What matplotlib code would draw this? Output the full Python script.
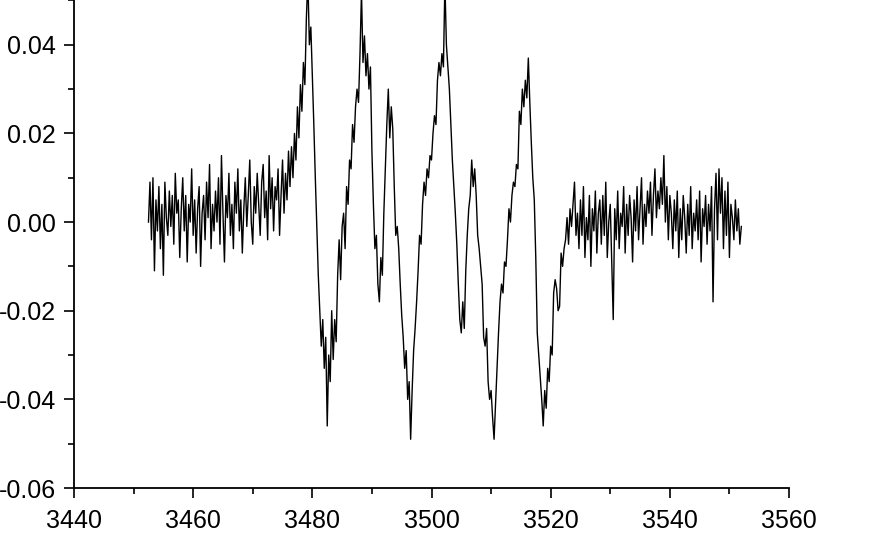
import numpy as np
import matplotlib
matplotlib.use("Agg")
import matplotlib.pyplot as plt
from matplotlib.ticker import MultipleLocator, FormatStrFormatter

# field axis (G): first point and sampling step
field_start = 3452.5
field_step = 0.25

# signal, in units of 1e-3 (8 points = 2 G per row)
signal_milli = [
    0, 9, -4, 10, -11, 5, -2, 8,
    -6, 4, -12, 9, 1, -3, 7, -1,
    6, -5, 11, 2, 5, -8, 3, 10,
    -2, 6, -9, 4, 0, 12, -3, 5,
    -7, 3, 8, -10, 2, 6, -4, 9,
    1, 13, -6, 4, -2, 7, 0, 10,
    -5, 15, 2, -9, 6, 1, 11, -3,
    4, -6, 9, 2, 12, -2, 5, -7,
    3, 10, -1, 6, 14, 0, -5, 8,
    2, 11, 4, -3, 9, 13, 1, 7,
    -4, 15, 3, 10, -2, 8, 5, 12,
    -3, 6, 14, 2, 11, 5, 16, 8,
    # 3476.5 - hyperfine lines
    17, 10, 20, 14, 26, 19, 31, 25,
    36, 31, 46, 55, 40, 44, 33, 22,
    10, -1, -12, -20, -28, -22, -33, -26,
    -46, -30, -36, -20, -31, -22, -27, -12,
    -4, -13, -1, 2, -6, 8, 4, 14,
    12, 22, 18, 26, 30, 27, 38, 52,
    36, 42, 33, 38, 30, 35, 16, 4,
    -6, -3, -14, -18, -8, -12, 2, 12,
    22, 30, 19, 26, 21, 8, -3, -1,
    -6, -14, -21, -26, -33, -29, -40, -36,
    -49, -38, -29, -24, -18, -11, -3, -5,
    4, 9, 6, 12, 10, 15, 14, 20,
    24, 22, 32, 36, 33, 38, 35, 54,
    40, 35, 30, 22, 14, 8, 2, -5,
    -14, -22, -25, -18, -24, -11, -3, 3,
    6, 14, 8, 12, 6, -3, -6, -10,
    -14, -26, -28, -24, -36, -40, -38, -44,
    -49, -41, -33, -25, -18, -14, -16, -9,
    -10, -4, 3, 0, 6, 9, 8, 13,
    12, 25, 22, 30, 26, 32, 28, 37,
    27, 18, 10, 5, -8, -25, -30, -35,
    -40, -46, -38, -42, -33, -36, -28, -30,
    -16, -13, -15, -20, -19, -7, -10, -6,
    -4, 1, -5, 3, -1, 4, 9, -3,
    # 3524.5 - baseline
    2, -6, 5, -3, 8, -8, 1, -4,
    6, -10, 3, -2, 7, -7, 2, 5,
    -5, 6, -3, 9, -8, 0, 4, -9,
    -22, 3, -4, 7, -6, 2, -1, 8,
    -7, 4, -3, 6, 1, -9, 5, -2,
    8, -4, 3, 10, -5, 4, -1, 7,
    2, 9, -3, 6, 12, 1, 7, 3,
    10, 4, 15, 0, 8, -4, 6, 2,
    -6, 5, -2, 7, -8, 3, -4, 6,
    1, -7, 4, -3, 8, -6, 2, -2,
    5, -4, 7, -9, 3, -1, 6, -5,
    4, -2, 8, -18, 3, 11, -4, 12,
    2, 10, -6, 7, -3, 9, -8, 4,
    1, -4, 5, -2, 3, -5, -1,
]


def main():
    plt.rcParams['font.family'] = ['Liberation Sans', 'DejaVu Sans']
    plt.rcParams['axes.unicode_minus'] = False

    signal = np.array(signal_milli) / 1000.0
    field = field_start + field_step * np.arange(len(signal))

    fig = plt.figure(figsize=(8.78, 5.41), dpi=100)
    # the plot area reaches the top edge of the image; the peaks are cut there
    ax = fig.add_axes([74 / 878, 53 / 541, 715 / 878, 488 / 541])

    ax.plot(field, signal, color='black', linewidth=1.0)

    ax.set_xlim(3440, 3560)
    ax.set_ylim(-0.06, 0.0501)

    ax.xaxis.set_major_locator(MultipleLocator(20))
    ax.xaxis.set_minor_locator(MultipleLocator(10))
    ax.yaxis.set_major_locator(MultipleLocator(0.02))
    ax.yaxis.set_minor_locator(MultipleLocator(0.01))
    ax.yaxis.set_major_formatter(FormatStrFormatter('%.2f'))

    for side in ('top', 'right'):
        ax.spines[side].set_visible(False)
    for side in ('left', 'bottom'):
        ax.spines[side].set_linewidth(1.3)

    ax.tick_params(which='major', direction='out', length=7, width=1.2,
                   labelsize=18)
    ax.tick_params(axis='x', which='major', pad=8)
    ax.tick_params(axis='y', which='major', pad=6)
    ax.tick_params(which='minor', direction='out', length=4, width=1.2)

    fig.savefig('out.png', dpi=100)
    plt.close(fig)


if __name__ == "__main__":
    main()
